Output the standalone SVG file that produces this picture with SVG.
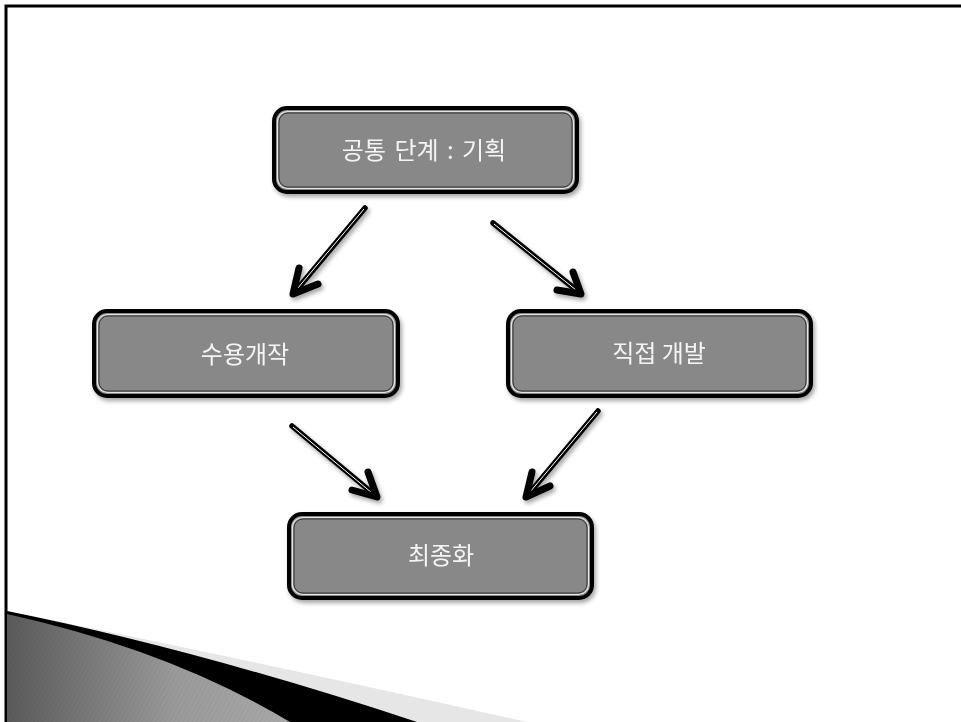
<svg xmlns="http://www.w3.org/2000/svg" width="961" height="722" viewBox="0 0 961 722">
<defs>
<style>
.box{fill:#888888;stroke:#000;stroke-width:4}
.in1{fill:none;stroke:#e6e6e6;stroke-width:1.2}
.in2{fill:none;stroke:#333;stroke-width:1}
.lbl{font-family:"Noto Sans CJK KR","Noto Sans",sans-serif;font-size:24px;fill:#f4f4f4;text-anchor:middle;dominant-baseline:central}
.shaft{stroke:#000;stroke-width:5.5;stroke-linecap:round;fill:none}
.hl{stroke:#fff;stroke-width:1;fill:none}
.head{stroke:#000;stroke-width:7;stroke-linecap:round;stroke-linejoin:round;fill:none}
</style>
<filter id="sh" x="-20%" y="-20%" width="140%" height="140%">
<feDropShadow dx="2" dy="3" stdDeviation="2" flood-color="#000" flood-opacity="0.35"/>
</filter>
<linearGradient id="gg" x1="0" y1="0" x2="1" y2="0">
<stop offset="0" stop-color="#5a5a5a"/>
<stop offset="0.6" stop-color="#9a9a9a"/>
<stop offset="1" stop-color="#a8a8a8"/>
</linearGradient>
<pattern id="st" width="4" height="4" patternUnits="userSpaceOnUse" patternTransform="rotate(28)">
<line x1="0" y1="0" x2="0" y2="4" stroke="#000" stroke-opacity="0.08" stroke-width="1"/>
</pattern>
</defs>
<rect width="961" height="722" fill="#fff"/>
<g id="frame">
<path d="M6 722 V6 H961" fill="none" stroke="#000" stroke-width="3"/>
<path d="M7 611 Q250 660 527 722 L7 722 Z" fill="#e6e6e6"/>
<path d="M7 611 Q200 650 417 722 L7 722 Z" fill="#000"/>
<path d="M7 614 Q170 650 290 722 L7 722 Z" fill="url(#gg)"/>
<path d="M7 614 Q170 650 290 722 L7 722 Z" fill="url(#st)"/>
</g>
<g id="connectors" filter="url(#sh)">
<g id="c1"><line class="shaft" x1="365" y1="208" x2="294" y2="293"/><line class="hl" x1="364" y1="209" x2="297" y2="289"/><polyline class="head" points="299,268 293,294 318,284"/></g>
<g id="c2"><line class="shaft" x1="493" y1="223" x2="580" y2="293"/><line class="hl" x1="494" y1="224" x2="576" y2="290"/><polyline class="head" points="557,290 581,294 573,272"/></g>
<g id="c3"><line class="shaft" x1="292" y1="426" x2="376" y2="496"/><line class="hl" x1="293" y1="427" x2="372" y2="493"/><polyline class="head" points="352,490 377,497 368,472"/></g>
<g id="c4"><line class="shaft" x1="598" y1="411" x2="527" y2="496"/><line class="hl" x1="597" y1="412" x2="530" y2="492"/><polyline class="head" points="532,472 526,497 550,486"/></g>
</g>
<g id="n1" filter="url(#sh)">
<rect class="box" x="274" y="108" width="303" height="84" rx="13"/>
<rect class="in1" x="277.5" y="111.5" width="296" height="77" rx="10"/>
<rect class="in2" x="279" y="113" width="293" height="74" rx="9"/>
<text class="lbl" x="424" y="148" word-spacing="3">공통 단계 : 기획</text>
</g>
<g id="n2" filter="url(#sh)">
<rect class="box" x="94" y="311" width="304" height="85" rx="13"/>
<rect class="in1" x="97.5" y="314.5" width="297" height="78" rx="10"/>
<rect class="in2" x="99" y="316" width="294" height="75" rx="9"/>
<text class="lbl" x="245" y="352">수용개작</text>
</g>
<g id="n3" filter="url(#sh)">
<rect class="box" x="508" y="311" width="303" height="85" rx="13"/>
<rect class="in1" x="511.5" y="314.5" width="296" height="78" rx="10"/>
<rect class="in2" x="513" y="316" width="293" height="75" rx="9"/>
<text class="lbl" x="659" y="351">직접 개발</text>
</g>
<g id="n4" filter="url(#sh)">
<rect class="box" x="289" y="514" width="303" height="84" rx="13"/>
<rect class="in1" x="292.5" y="517.5" width="296" height="77" rx="10"/>
<rect class="in2" x="294" y="519" width="293" height="74" rx="9"/>
<text class="lbl" x="441" y="553">최종화</text>
</g>
</svg>
